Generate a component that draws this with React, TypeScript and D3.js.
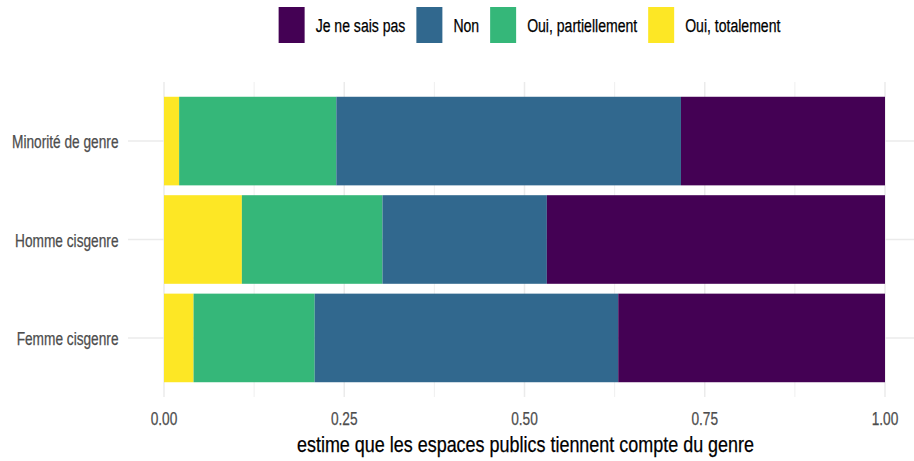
import React from "react";
import * as d3 from "d3";

const categories = ["Minorité de genre", "Homme cisgenre", "Femme cisgenre"];
const seriesKeys = ["Oui, totalement", "Oui, partiellement", "Non", "Je ne sais pas"];
const legendOrder = ["Je ne sais pas", "Non", "Oui, partiellement", "Oui, totalement"];
const ouiTotalement = [0.021, 0.108, 0.041];
const ouiPartiellement = [0.218, 0.195, 0.168];
const non = [0.478, 0.228, 0.421];
const jeNeSaisPas = [0.283, 0.469, 0.370];
const xTicks = [0, 0.25, 0.5, 0.75, 1];
const xMinorTicks = [0.125, 0.375, 0.625, 0.875];
const xTitle = "estime que les espaces publics tiennent compte du genre";

const colors: Record<string, string> = {
  "Je ne sais pas": "#440154",
  "Non": "#31688E",
  "Oui, partiellement": "#35B779",
  "Oui, totalement": "#FDE725",
};

const FONT = "'Liberation Sans', Arial, sans-serif";

function measure(text: string, size: number): number {
  if (typeof document === "undefined") return text.length * size * 0.5;
  const c = document.createElement("canvas");
  const ctx = c.getContext("2d");
  if (!ctx) return text.length * size * 0.5;
  ctx.font = `${size}px ${FONT}`;
  return ctx.measureText(text).width;
}

function NText(props: any) {
  const { children, fontSize, narrow, anchor, x, ...rest } = props;
  const len = measure(String(children), fontSize) * narrow;
  const x0 = anchor === "end" ? x - len : anchor === "middle" ? x - len / 2 : x;
  return (
    <text
      {...rest}
      x={x0}
      fontSize={fontSize}
      textLength={len}
      lengthAdjust="spacingAndGlyphs"
      stroke={rest.fill}
      strokeWidth={0.25}
    >
      {children}
    </text>
  );
}

export default function App() {
  const W = 914, H = 461;
  const panel = { left: 128, right: 921, top: 82, bottom: 397 };
  const x = d3.scaleLinear().domain([0, 1]).range([164, 885]);
  const y = d3
    .scaleBand<string>()
    .domain(categories)
    .range([panel.top, panel.bottom])
    .paddingInner(0.1)
    .paddingOuter(0.15);

  const rows = categories.map((c, i) => ({
    cat: c,
    "Oui, totalement": ouiTotalement[i],
    "Oui, partiellement": ouiPartiellement[i],
    "Non": non[i],
    "Je ne sais pas": jeNeSaisPas[i],
  }));
  const stacked = d3.stack<any>().keys(seriesKeys)(rows);

  const labelSize = 18;
  const labelNarrow = 0.76;
  const legendSize = 18;
  const legendNarrow = 0.78;
  const titleSize = 21.5;
  const titleNarrow = 0.835;

  // legend layout
  const keyW = 26, keyH = 36, gapText = 11, gapItem = 11;
  const items = legendOrder.map((k) => ({ k, w: measure(k, legendSize) * legendNarrow }));
  const totalW = items.reduce((s, it) => s + keyW + gapText + it.w + gapItem, 0) - gapItem;
  let cx = 529.5 - totalW / 2;
  const legendItems = items.map((it) => {
    const r = { ...it, x: cx };
    cx += keyW + gapText + it.w + gapItem;
    return r;
  });
  const legendTop = 7;

  return (
    <svg
      width={W}
      height={H}
      style={{ position: "absolute", left: 0, top: 0, background: "#fff" }}
      fontFamily={FONT}
    >
      <defs>
        <clipPath id="clip">
          <rect x={0} y={0} width={W} height={H} />
        </clipPath>
      </defs>
      <g clipPath="url(#clip)">
        {xMinorTicks.map((t) => (
          <line key={"mn" + t} x1={x(t)} x2={x(t)} y1={panel.top} y2={panel.bottom} stroke="#ebebeb" strokeWidth={0.8} />
        ))}
        {xTicks.map((t) => (
          <line key={"mj" + t} x1={x(t)} x2={x(t)} y1={panel.top} y2={panel.bottom} stroke="#ebebeb" strokeWidth={1.5} />
        ))}
        {categories.map((c) => (
          <line
            key={"h" + c}
            x1={panel.left}
            x2={panel.right}
            y1={(y(c) as number) + y.bandwidth() / 2}
            y2={(y(c) as number) + y.bandwidth() / 2}
            stroke="#ebebeb"
            strokeWidth={1.5}
          />
        ))}
      </g>
      {stacked.map((s) => (
        <g key={s.key} fill={colors[s.key]}>
          {s.map((d: any) => (
            <rect
              key={d.data.cat}
              x={x(d[0])}
              width={x(d[1]) - x(d[0])}
              y={y(d.data.cat)}
              height={y.bandwidth()}
            />
          ))}
        </g>
      ))}
      {categories.map((c) => (
        <NText
          key={"yl" + c}
          x={118.5}
          anchor="end"
          y={(y(c) as number) + y.bandwidth() / 2 + 1}
          dominantBaseline="central"
          fontSize={labelSize}
          narrow={labelNarrow}
          fill="#4d4d4d"
        >
          {c}
        </NText>
      ))}
      {xTicks.map((t) => (
        <NText
          key={"xl" + t}
          x={x(t)}
          anchor="middle"
          y={419}
          dominantBaseline="central"
          fontSize={labelSize}
          narrow={labelNarrow}
          fill="#4d4d4d"
        >
          {d3.format(".2f")(t)}
        </NText>
      ))}
      <NText x={(x(0) + x(1)) / 2 + 1} anchor="middle" y={451.5} fontSize={titleSize} narrow={titleNarrow} fill="#000">
        {xTitle}
      </NText>
      {legendItems.map((it) => (
        <g key={"lg" + it.k}>
          <rect x={it.x} y={legendTop} width={keyW} height={keyH} fill={colors[it.k]} />
          <NText
            x={it.x + keyW + gapText}
            y={legendTop + keyH / 2 + 1}
            dominantBaseline="central"
            fontSize={legendSize}
            narrow={legendNarrow}
            fill="#000"
          >
            {it.k}
          </NText>
        </g>
      ))}
    </svg>
  );
}
